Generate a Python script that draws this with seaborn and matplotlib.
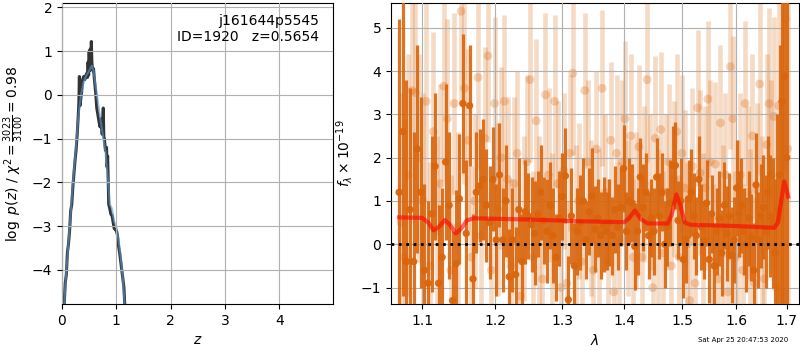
import numpy as np
import pandas as pd
import matplotlib
matplotlib.use("Agg")
import matplotlib.pyplot as plt
import seaborn as sns
from matplotlib.ticker import FixedLocator, FixedFormatter, NullLocator

# ---------------- data: redshift PDF ----------------
z_pz = [0.04, 0.06, 0.08, 0.10, 0.12, 0.14, 0.16, 0.18, 0.20, 0.22, 0.24, 0.26, 0.28,
        0.30, 0.31, 0.32, 0.33, 0.34, 0.36, 0.38, 0.40, 0.42, 0.44, 0.46, 0.47, 0.48,
        0.49, 0.50, 0.51, 0.52, 0.53, 0.54, 0.55, 0.56, 0.57, 0.58, 0.60, 0.62, 0.64,
        0.66, 0.68, 0.70, 0.72, 0.74, 0.76, 0.77, 0.78, 0.80, 0.82, 0.83, 0.84, 0.85,
        0.86, 0.88, 0.90, 0.92, 0.94, 0.96, 0.98, 1.00, 1.02, 1.04, 1.06, 1.08, 1.10,
        1.12, 1.14, 1.16]
logp = [-4.8, -4.3, -4.1, -3.6, -3.4, -3.1, -2.65, -2.5, -2.1, -1.8, -1.5, -1.25, -0.9,
        -0.45, -0.2, 0.42, -0.25, -0.15, 0.05, 0.35, 0.42, 0.35, 0.45, 0.5, 0.4, 0.75,
        0.45, 1.0, 0.55, 1.05, 0.6, 1.22, 0.75, 0.6, 0.55, 0.6, 0.3, 0.05, -0.3,
        -0.45, -0.6, -0.73, -0.55, -0.9, -0.3, -0.95, -1.0, -1.27, -1.2, -1.65, -1.4, -1.9,
        -2.5, -2.6, -2.73, -2.75, -2.9, -3.05, -3.08, -3.1, -3.2, -3.45, -3.6, -3.8, -4.0,
        -4.2, -4.4, -4.9]
z_sm = [0.04, 0.07, 0.10, 0.13, 0.16, 0.20, 0.25, 0.30, 0.35, 0.40, 0.45, 0.50, 0.55,
        0.58, 0.62, 0.66, 0.70, 0.75, 0.80, 0.85, 0.88, 0.92, 0.96, 1.00, 1.04, 1.08,
        1.12, 1.16]
logp_sm = [-4.8, -4.2, -3.7, -3.2, -2.7, -2.0, -1.3, -0.5, 0.0, 0.3, 0.45, 0.55, 0.67,
           0.55, 0.2, -0.15, -0.5, -0.9, -1.3, -2.0, -2.5, -2.6, -2.9, -3.0, -3.3, -3.7,
           -4.2, -4.9]

# ---------------- data: spectrum ----------------
wave_a = np.arange(1.0700, 1.7020, 0.0047)   # wavelength grid, beam A (microns)
wave_b = np.arange(1.0723, 1.7040, 0.0047)   # wavelength grid, beam B

flux_a = [1.2, 2.6, -0.4, 0.8, -0.4,
          2.2, 1.2, -0.6, -0.9, 0.7,
          1.8, -0.9, -0.3, 1.9, 0.9,
          -1.3, -0.45, 1.05, 3.25, 0.25,
          3.2, -0.8, 1.2, 1.35, 1.5,
          0.9, 0.5, 1.5, 0.1, 1.6,
          0.1, 1.0, -0.75, 0.1, -0.7,
          0.8, -0.4, 0.75, 0.65, 0.45,
          0.25, 0.7, 1.2, 0.55, 0.3,
          0.9, 0.2, -0.3, 0.6, 1.1,
          1.58, -1.28, 0.65, -0.5, 0.3,
          0.5, 1.0, 0.1, 0.75, 1.12,
          0.35, 0.6, 0.2, 0.45, 0.3,
          0.5, 0.2, 0.8, 0.4, 0.85,
          1.75, 0.3, 1.0, 0.95, -0.05,
          0.3, 1.55, 0.85, 1.2, 0.2,
          0.6, 0.3, 1.55, 0.65, 1.2,
          0.0, 0.4, 0.95, 1.82, 1.82,
          0.55, 1.0, -0.35, 0.1, 1.05,
          1.2, 0.65, 0.2, 1.5, 0.4,
          0.1, 0.95, -0.35, 0.7, -0.5,
          0.3, 0.6, -0.2, 0.9, 0.25,
          0.65, -0.25, 0.1, 1.3, 0.7,
          0.9, 0.3, 0.0, 0.6, 0.15,
          -0.6, 1.37, 0.1, 0.65, 0.85,
          0.3, 1.2, 0.65, 0.5, -0.2,
          0.8, 1.6, 3.3, 3.88, 2.0]
err_a = [4.0, 3.8, 4.2, 2.8, 3.0,
         2.4, 2.2, 2.0, 1.9, 1.8,
         1.7, 1.8, 1.6, 1.8, 1.7,
         1.6, 1.7, 1.5, 1.6, 1.7,
         1.4, 1.5, 1.4, 1.3, 1.4,
         1.3, 1.3, 1.2, 1.3, 1.2,
         1.2, 1.3, 1.1, 1.2, 1.1,
         1.2, 1.1, 1.2, 1.0, 1.1,
         1.2, 1.0, 1.1, 1.0, 1.2,
         1.0, 1.1, 1.0, 1.1, 1.0,
         1.1, 1.0, 1.1, 1.0, 1.0,
         1.1, 1.0, 0.9, 1.0, 1.1,
         1.0, 0.9, 1.0, 1.1, 0.9,
         1.0, 0.9, 1.0, 1.0, 0.9,
         1.0, 0.9, 1.0, 0.9, 1.0,
         1.0, 0.9, 1.0, 0.9, 1.0,
         0.9, 1.0, 0.9, 1.0, 0.9,
         1.0, 0.9, 1.0, 0.9, 1.0,
         0.9, 1.0, 0.9, 1.0, 0.9,
         1.0, 1.0, 0.9, 1.0, 1.0,
         0.9, 1.0, 1.0, 0.9, 1.0,
         1.0, 1.1, 1.0, 1.0, 1.1,
         1.0, 1.1, 1.0, 1.1, 1.0,
         1.1, 1.0, 1.1, 1.1, 1.0,
         1.1, 1.2, 1.1, 1.2, 1.2,
         1.3, 1.3, 1.4, 1.5, 1.7,
         2.2, 3.0, 5.0, 7.0, 8.0]

flux_b = [0.5, -0.3, 1.6, 3.55, 3.5,
          2.0, 1.0, 3.3, -0.5, 2.6,
          0.3, 1.4, 3.65, 2.9, -0.6,
          3.25, 0.4, 5.38, 3.6, 2.4,
          -0.3, 1.0, 3.85, 0.2, 2.45,
          4.35, -0.6, 3.25, 0.8, 2.0,
          3.3, 1.5, -0.5, 1.4, 2.1,
          -1.2, 0.6, 1.9, 3.8, -0.3,
          2.85, 0.5, -0.8, 3.45, 1.6,
          0.2, 3.3, 1.4, -1.0, 1.7,
          -0.9, 2.1, 3.95, 0.4, 1.0,
          -0.4, 3.55, 1.9, 0.6, -0.6,
          2.2, 0.3, 3.6, 1.2, -0.4,
          2.4, -1.1, 2.1, 0.1, 1.9,
          2.9, 0.6, 2.5, -0.3, 0.8,
          2.25, -0.3, 1.4, 3.8, 1.2,
          -1.0, 2.45, 0.4, 2.65, -0.2,
          1.2, 1.9, -0.5, 1.5, 2.6,
          -0.3, 2.1, 1.3, 0.0, -1.3,
          1.8, -0.9, 3.15, 1.65, 0.3,
          1.3, 3.35, 1.9, -0.4, 1.85,
          -0.8, 2.8, 0.4, 1.6, -1.1,
          4.1, 2.9, -0.3, 0.5, 1.6,
          -0.6, 3.25, 1.2, 0.2, 2.5,
          -0.9, 1.25, 3.7, 0.5, -0.8,
          2.3, 3.25, 1.6, 2.95, -1.0,
          3.2, 0.6, 1.0, 5.2, 2.2]
err_b = [3.0, 3.2, 2.8, 2.6, 2.5,
         2.4, 2.5, 2.3, 2.4, 2.3,
         2.2, 2.3, 2.2, 2.3, 2.2,
         2.1, 2.2, 2.1, 2.2, 2.1,
         2.1, 2.0, 2.1, 2.0, 2.1,
         2.0, 2.1, 2.0, 2.0, 2.1,
         2.0, 1.9, 2.0, 2.0, 1.9,
         2.0, 1.9, 2.0, 1.9, 2.0,
         1.9, 2.0, 1.9, 1.9, 2.0,
         1.9, 2.0, 1.9, 1.9, 1.8,
         1.9, 1.8, 1.9, 1.9, 1.8,
         1.9, 1.8, 1.9, 1.8, 1.9,
         1.8, 1.9, 1.8, 1.8, 1.9,
         1.8, 1.9, 1.8, 1.8, 1.9,
         1.8, 1.8, 1.9, 1.8, 1.8,
         1.9, 1.8, 1.8, 1.9, 1.8,
         1.8, 1.9, 1.8, 1.8, 1.9,
         1.8, 1.8, 1.9, 1.8, 1.8,
         1.9, 1.8, 1.8, 1.9, 1.8,
         1.8, 1.9, 1.8, 1.9, 1.8,
         1.9, 1.8, 1.9, 1.8, 1.9,
         1.9, 1.8, 1.9, 1.9, 1.8,
         1.9, 1.9, 2.0, 1.9, 1.9,
         2.0, 1.9, 2.0, 2.0, 1.9,
         2.0, 2.0, 2.1, 2.0, 2.1,
         2.1, 2.2, 2.2, 2.3, 2.4,
         2.5, 2.8, 3.0, 3.5, 4.0]

model_wave = [1.070, 1.100, 1.108, 1.115, 1.122, 1.130, 1.137, 1.145, 1.152, 1.160,
              1.170, 1.250, 1.330, 1.400, 1.408, 1.418, 1.428, 1.440, 1.475, 1.482,
              1.490, 1.497, 1.505, 1.515, 1.600, 1.675, 1.682, 1.690, 1.695, 1.703]
model_flux = [0.62, 0.61, 0.50, 0.32, 0.40, 0.56, 0.45, 0.25, 0.35, 0.55,
              0.60, 0.57, 0.53, 0.51, 0.60, 0.78, 0.58, 0.48, 0.48, 0.70,
              1.15, 0.90, 0.50, 0.45, 0.42, 0.38, 0.50, 1.10, 1.45, 1.10]

wave_ticks = [1.1, 1.2, 1.3, 1.4, 1.5, 1.6, 1.7]
wave_ticklabels = ["1.1", "1.2", "1.3", "1.4", "1.5", "1.6", "1.7"]
timestamp = "Sat Apr 25 20:47:53 2020"

# ---------------- figure ----------------
plt.rcParams["font.family"] = ["DejaVu Sans"]
plt.rcParams["mathtext.fontset"] = "dejavusans"

fig = plt.figure(figsize=(8, 3.5), dpi=100)
ax1 = fig.add_axes([0.0775, 0.1314, 0.3388, 0.86])
ax2 = fig.add_axes([0.48875, 0.1314, 0.51, 0.86])

orange = "#d9650c"

# left panel
df_pz = pd.DataFrame({"z": z_pz, "logp": logp})
df_sm = pd.DataFrame({"z": z_sm, "logp": logp_sm})
sns.lineplot(data=df_pz, x="z", y="logp", ax=ax1, color="#333333", lw=2.2,
             sort=False, estimator=None)
sns.lineplot(data=df_sm, x="z", y="logp", ax=ax1, color="#5b9bd5", lw=1.5,
             alpha=0.6, sort=False, estimator=None)
ax1.set_xlim(0, 4.99)
ax1.set_ylim(-4.78, 2.1)
ax1.set_xticks([0, 1, 2, 3, 4])
ax1.set_xlabel("$z$", fontsize=10)
ax1.set_ylabel(r"$\log\ p(z)$ / $\chi^2=\frac{3023}{3100}=0.98$", fontsize=10)
ax1.grid(True, color="#b0b0b0", lw=0.8)
ax1.set_axisbelow(False)
ax1.text(0.948, 0.965, "j161644p5545\nID=1920   z=0.5654", transform=ax1.transAxes,
         ha="right", va="top", fontsize=10)

# right panel
ax2.set_xscale("log")
ax2.errorbar(wave_b, flux_b, yerr=err_b, fmt="none", ecolor=orange, alpha=0.24,
             elinewidth=3.3, zorder=2)
df_b = pd.DataFrame({"wave": wave_b, "flux": flux_b})
sns.scatterplot(data=df_b, x="wave", y="flux", ax=ax2, color=orange, alpha=0.28,
                s=40, edgecolor="none", zorder=2)
ax2.errorbar(wave_a, flux_a, yerr=err_a, fmt="none", ecolor=orange, alpha=0.9,
             elinewidth=2.3, zorder=3)
df_a = pd.DataFrame({"wave": wave_a, "flux": flux_a})
sns.scatterplot(data=df_a, x="wave", y="flux", ax=ax2, color=orange, alpha=0.95,
                s=28, edgecolor="none", zorder=3)
df_m = pd.DataFrame({"wave": model_wave, "flux": model_flux})
sns.lineplot(data=df_m, x="wave", y="flux", ax=ax2, color="red", lw=3, alpha=0.6,
             sort=False, estimator=None, zorder=5)
ax2.axhline(0, color="black", ls=":", lw=2, zorder=6)

ax2.set_xlim(1.0597, 1.725)
ax2.set_ylim(-1.38, 5.57)
ax2.xaxis.set_major_locator(FixedLocator(wave_ticks))
ax2.xaxis.set_major_formatter(FixedFormatter(wave_ticklabels))
ax2.xaxis.set_minor_locator(NullLocator())
ax2.set_xlabel(r"$\lambda$", fontsize=10)
ax2.set_ylabel(r"$f_\lambda \times 10^{-19}$", fontsize=10)
ax2.grid(True, color="#b0b0b0", lw=0.8)
ax2.set_axisbelow(False)

for ax in (ax1, ax2):
    ax.tick_params(labelsize=10)

fig.text(0.985, 0.028, timestamp, ha="right", va="center", fontsize=5)

fig.savefig("out.png", dpi=100)
